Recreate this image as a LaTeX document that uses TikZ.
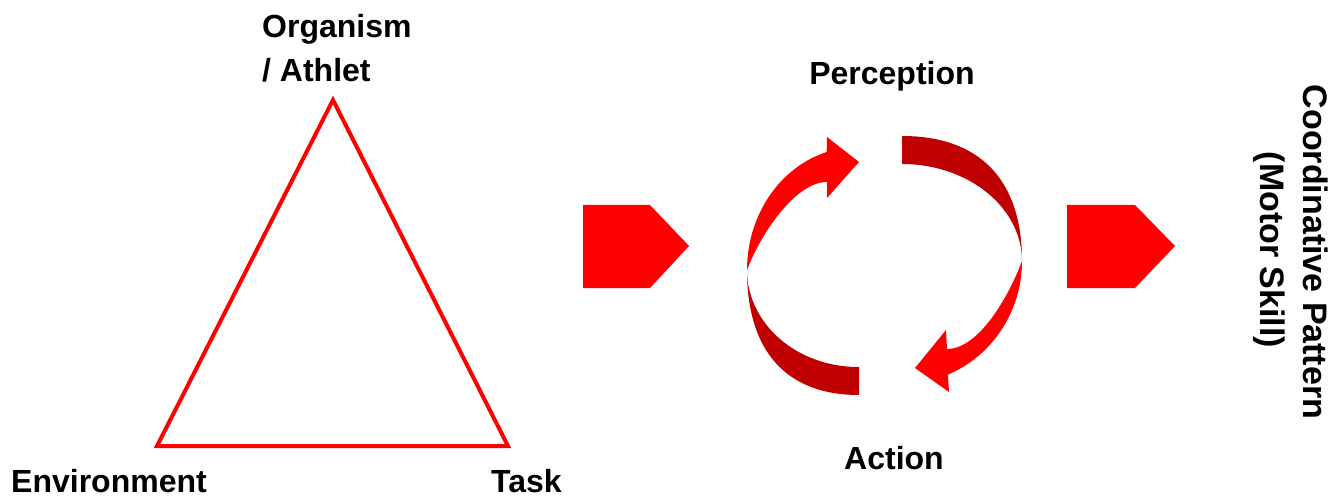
\documentclass[tikz,border=0pt]{standalone}
\usepackage{fontspec}
\setmainfont{Liberation Sans}
\definecolor{brightred}{RGB}{255,0,0}
\definecolor{deepred}{RGB}{192,0,0}
\begin{document}
\begin{tikzpicture}[x=1pt,y=-1pt,
  lbl/.style={font=\fontsize{32}{38}\selectfont\bfseries, inner sep=0pt, text=black},
  vlbl/.style={font=\fontsize{34}{40}\selectfont\bfseries, inner sep=0pt, text=black},
  blockarrow/.style={fill=brightred},
  frontband/.style={fill=brightred},
  backband/.style={fill=deepred}]
\useasboundingbox (0,0) rectangle (1333,497);

% triangle
\coordinate (apex) at (333,100);
\coordinate (bl) at (157,446);
\coordinate (br) at (508,446);
\draw[brightred, line width=4pt, line join=miter] (apex) -- (bl) -- (br) -- cycle;

% labels of triangle
\node[lbl, anchor=base west] (org) at (262,38) {Organism};
\node[lbl, anchor=base west] (ath) at (262,82) {/ Athlet};
\node[lbl, anchor=base west] (env) at (11,492) {Environment};
\node[lbl, anchor=base west] (task) at (491,492) {Task};

% block arrows
\fill[blockarrow] (583,205) -- (650,205) -- (689,246) -- (650,288) -- (583,288) -- cycle;
\fill[blockarrow] (1067,205) -- (1135,205) -- (1175,246) -- (1135,288) -- (1067,288) -- cycle;

% circular arrows
\coordinate (TL) at (747,270);
\coordinate (TR) at (1022,261);
% left arrow, back (dark) part
\fill[backband] (859,395) .. controls (786,395) and (747,351) .. (TL)
  -- plot[domain=180:90, samples=40, smooth] ({858+111*cos(\x)},{270+97*sin(\x)}) -- (859,367) -- cycle;
% left arrow, front part with head
\fill[frontband] plot[domain=180:253.6, samples=40, smooth] ({858+111*cos(\x)},{270+123*sin(\x)})
  -- (827,137) -- (859,162) -- (827,198) -- (827,182)
  .. controls (795,182) and (760,235) .. (TL) -- cycle;
% right arrow, back (dark) part
\fill[backband] (902,136) .. controls (980,136) and (1022,180) .. (TR)
  -- plot[domain=360:270, samples=40, smooth] ({902+120*cos(\x)},{261+97*sin(\x)}) -- (902,164) -- cycle;
% right arrow, front part with head
\fill[frontband] plot[domain=0:67.5, samples=40, smooth] ({902+120*cos(\x)},{261+123*sin(\x)})
  -- (949,392) -- (915,368) -- (946,330) -- (947,349)
  .. controls (979,349) and (1009,296) .. (TR) -- cycle;

\node[lbl, anchor=base] (perc) at (892,85) {Perception};
\node[lbl, anchor=base] (act) at (894,469) {Action};

% vertical text
\node[vlbl, anchor=base, rotate=-90] (coord) at (1303,252) {Coordinative Pattern};
\node[vlbl, anchor=base, rotate=-90] (motor) at (1260,250) {(Motor Skill)};
\end{tikzpicture}
\end{document}
